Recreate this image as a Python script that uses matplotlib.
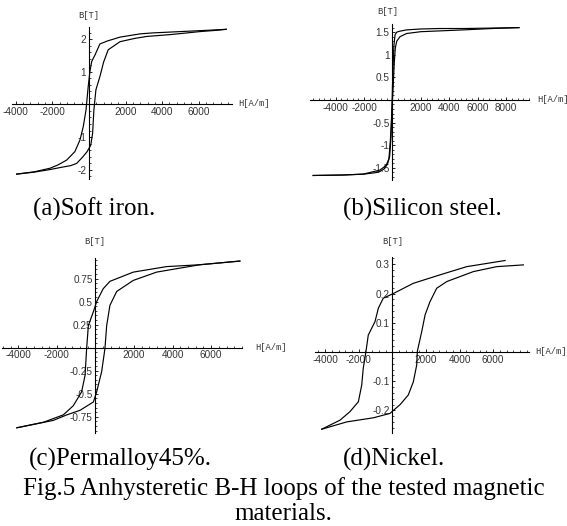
import matplotlib
matplotlib.use("Agg")
import matplotlib.pyplot as plt
from matplotlib.ticker import FixedLocator, MultipleLocator, FuncFormatter

plt.rcParams['font.family'] = ['Liberation Sans Narrow', 'Liberation Sans', 'DejaVu Sans']
plt.rcParams['axes.unicode_minus'] = False

# ---- data (H in A/m, B in T) ----
# (a) soft iron
iron_H_down = [7500, 6500, 5000, 3500, 2800, 1700, 1000, 600, 330, 150, 50, -40, -160, -310,
               -490, -770, -1220, -1700, -2130, -3000, -3950]
iron_B_down = [2.31, 2.28, 2.24, 2.20, 2.17, 2.07, 1.95, 1.86, 1.52, 1.32, 1.00, 0.55, -0.17, -0.68,
               -1.09, -1.45, -1.71, -1.86, -1.96, -2.07, -2.14]
iron_H_up = [-3950, -3000, -2130, -1500, -1000, -670, -350, -100, 100, 200, 270, 380, 600, 800, 1050,
             1700, 2500, 3150, 4500, 6070, 7000, 7500]
iron_B_up = [-2.14, -2.08, -2.00, -1.93, -1.88, -1.81, -1.62, -1.45, -1.25, -0.89, -0.17, 0.45, 0.86, 1.30, 1.68,
             1.93, 2.03, 2.09, 2.15, 2.24, 2.28, 2.31]

# (b) silicon steel
steel_H_down = [8900, 7000, 5000, 3300, 2000, 1000, 500, 300, 180, 100, 50, 0, -50, -100,
                -200, -350, -600, -1000, -2000, -3500, -5580]
steel_B_down = [1.60, 1.59, 1.58, 1.58, 1.57, 1.55, 1.52, 1.50, 1.44, 1.20, 0.80, 0.30, -0.30, -0.80,
                -1.25, -1.42, -1.53, -1.60, -1.64, -1.66, -1.67]
steel_H_up = [-5580, -3500, -2060, -880, -450, -250, -150, -50, 50, 120, 200, 300, 530, 1000,
              2000, 3500, 5000, 7000, 8900]
steel_B_up = [-1.67, -1.66, -1.64, -1.55, -1.45, -1.30, -0.90, -0.30, 0.30, 0.80, 1.15, 1.30, 1.40, 1.47,
              1.51, 1.53, 1.55, 1.58, 1.60]

# (c) permalloy 45%
perm_H_down = [7490, 5410, 3690, 1960, 750, 400, 60, -110, -370, -460, -540, -720, -1150,
               -1670, -2700, -4080]
perm_B_down = [0.94, 0.90, 0.88, 0.82, 0.72, 0.64, 0.50, 0.39, 0.24, -0.01, -0.30, -0.48, -0.63,
               -0.73, -0.81, -0.87]
perm_H_up = [-4080, -2190, -1490, -800, -110, 60, 320, 490, 580, 750, 1100, 1960, 3170, 5410, 7490]
perm_B_up = [-0.87, -0.79, -0.73, -0.68, -0.59, -0.48, -0.26, -0.01, 0.24, 0.46, 0.61, 0.73, 0.82, 0.90, 0.94]

# (d) nickel
nick_H_down = [6710, 4430, 2840, 1250, 60, -540, -830, -1030, -1430, -1570, -1730, -1820,
               -2020, -2520, -3110, -4200]
nick_B_down = [0.313, 0.292, 0.264, 0.235, 0.200, 0.184, 0.150, 0.104, 0.058, 0.001, -0.056, -0.113,
               -0.170, -0.204, -0.233, -0.264]
nick_H_up = [-4200, -2710, -1130, -140, 460, 950, 1250, 1450, 1490, 1750, 1950, 2240, 2640,
             3240, 4820, 6210, 7800]
nick_B_up = [-0.264, -0.239, -0.225, -0.210, -0.180, -0.147, -0.102, -0.045, 0.003, 0.070, 0.127,
             0.172, 0.218, 0.241, 0.275, 0.292, 0.298]

h_ticks_short = [-4000, -2000, 2000, 4000, 6000]
h_ticks_long = [-4000, -2000, 2000, 4000, 6000, 8000]
iron_b_ticks = [-2, -1, 1, 2]
steel_b_ticks = [-1.5, -1, -0.5, 0.5, 1, 1.5]
perm_b_ticks = [-0.75, -0.5, -0.25, 0.25, 0.5, 0.75]
nick_b_ticks = [-0.2, -0.1, 0.1, 0.2, 0.3]

captions = ["(a)Soft iron.", "(b)Silicon steel.", "(c)Permalloy45%.", "(d)Nickel."]
fig_caption = "Fig.5 Anhysteretic B-H loops of the tested magnetic\nmaterials."

W, HH = 567, 526
fig = plt.figure(figsize=(W / 100, HH / 100), dpi=100)


def px_axes(l, t, r, b):
    return fig.add_axes([l / W, 1 - b / HH, (r - l) / W, (b - t) / HH])


def panel(box, loops, xlim, ylim, xticks, yticks, yminor, b_xy, h_xy, cap, cap_xy):
    ax = px_axes(*box)
    for hx, by in loops:
        ax.plot(hx, by, color='black', lw=0.85)
    ax.set_xlim(xlim)
    ax.set_ylim(ylim)
    ax.patch.set_visible(False)
    for s in ['top', 'right']:
        ax.spines[s].set_visible(False)
    ax.spines['left'].set_position('zero')
    ax.spines['bottom'].set_position('zero')
    for s in ['left', 'bottom']:
        ax.spines[s].set_linewidth(0.8)
    ax.xaxis.set_major_locator(FixedLocator(xticks))
    ax.yaxis.set_major_locator(FixedLocator(yticks))
    ax.xaxis.set_minor_locator(MultipleLocator(400))
    ax.yaxis.set_minor_locator(MultipleLocator(yminor))
    fmt = FuncFormatter(lambda v, p: '%g' % v)
    ax.xaxis.set_major_formatter(fmt)
    ax.yaxis.set_major_formatter(fmt)
    ax.tick_params(which='major', direction='in', length=2.5, width=0.6,
                   labelsize=7.2, labelcolor='#333333', pad=2)
    ax.tick_params(which='minor', direction='in', length=1.3, width=0.5)
    fig.text(b_xy[0] / W, 1 - b_xy[1] / HH, "B[T]", family='Liberation Mono',
             size=6.3, color='#333333', ha='center', va='center')
    fig.text(h_xy[0] / W, 1 - h_xy[1] / HH, "H[A/m]", family='Liberation Mono',
             size=6.3, color='#333333', ha='left', va='center')
    fig.text(cap_xy[0] / W, 1 - cap_xy[1] / HH, cap, family='Liberation Serif',
             size=18, ha='left', va='center')
    return ax


panel((11.7, 26.7, 231.7, 179), [(iron_H_down, iron_B_down), (iron_H_up, iron_B_up)],
      (-4220, 7800), (-2.29, 2.39), h_ticks_short, iron_b_ticks, 0.2,
      (89, 15), (238, 104), captions[0], (33, 209))
panel((310, 24, 529, 180), [(steel_H_down, steel_B_down), (steel_H_up, steel_B_up)],
      (-5800, 9600), (-1.77, 1.68), h_ticks_long, steel_b_ticks, 0.1,
      (388, 12), (537, 100), captions[1], (343, 209))
panel((2, 258.3, 242, 433.3), [(perm_H_down, perm_B_down), (perm_H_up, perm_B_up)],
      (-4850, 7600), (-0.93, 0.97), h_ticks_short, perm_b_ticks, 0.05,
      (95, 242), (255, 347.5), captions[2], (29, 459))
panel((315, 256.7, 529.3, 433.3), [(nick_H_down, nick_B_down), (nick_H_up, nick_B_up)],
      (-4600, 8150), (-0.278, 0.326), h_ticks_short, nick_b_ticks, 0.02,
      (393, 242), (535, 352), captions[3], (343, 459))

fig.text(0.5, 1 - 501 / HH, fig_caption, family='Liberation Serif', size=18,
         ha='center', va='center', linespacing=1.18)

fig.savefig("out.png", dpi=100)
